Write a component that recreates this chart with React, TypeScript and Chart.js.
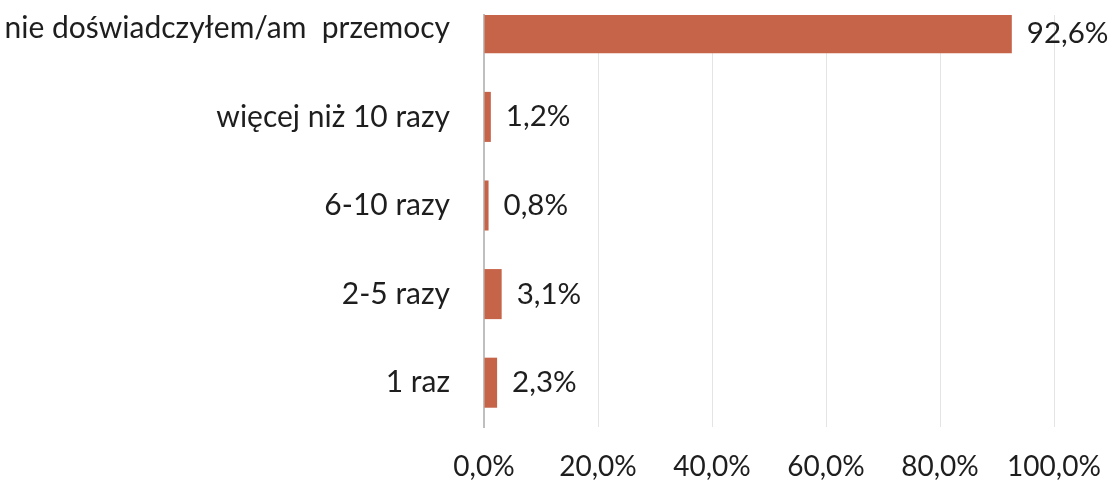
import React, { useEffect, useRef } from "react";
import { Chart, registerables } from "chart.js";

Chart.register(...registerables);

const categories = [
  "nie doświadczyłem/am  przemocy",
  "więcej niż 10 razy",
  "6-10 razy",
  "2-5 razy",
  "1 raz",
];
const values = [92.6, 1.2, 0.8, 3.1, 2.3];
const xTicks = [0, 20, 40, 60, 80, 100];

const FONT = "Lato";
const TEXT_COLOR = "#1E1E1E";
const BAR_COLOR = "rgb(198,100,74)";

const fmt = (v: number) => v.toFixed(1).replace(".", ",") + "%";

const valueLabels = {
  id: "valueLabels",
  afterDatasetsDraw(chart: any) {
    const ctx = chart.ctx;
    const meta = chart.getDatasetMeta(0);
    ctx.save();
    ctx.font = `29.5px ${FONT}`;
    ctx.fillStyle = TEXT_COLOR;
    ctx.textAlign = "left";
    ctx.textBaseline = "middle";
    meta.data.forEach((bar: any, i: number) => {
      const y = Math.max(bar.y, chart.chartArea.top + 18);
      ctx.fillText(fmt(values[i]), bar.x + 15, y);
    });
    ctx.restore();
  },
};

export default function App() {
  const ref = useRef<HTMLCanvasElement | null>(null);

  useEffect(() => {
    if (!ref.current) return;
    const chart = new Chart(ref.current, {
      type: "bar",
      data: {
        datasets: [
          {
            data: values.map((v, i) => ({ x: v, y: i })),
            backgroundColor: BAR_COLOR,
            borderWidth: 0,
            categoryPercentage: 1,
            barPercentage: 0.565,
          },
        ],
      },
      plugins: [valueLabels],
      options: {
        indexAxis: "y",
        animation: false,
        responsive: false,
        maintainAspectRatio: false,
        layout: { padding: { top: 15, right: 62, left: 0, bottom: 0 } },
        plugins: {
          legend: { display: false },
          tooltip: { enabled: false },
          title: { display: false },
        },
        scales: {
          x: {
            type: "linear",
            min: 0,
            max: 100,
            afterBuildTicks: (scale: any) => {
              scale.ticks = xTicks.map((v) => ({ value: v }));
            },
            afterFit: (scale: any) => {
              scale.height = 55;
              scale.paddingLeft = 0;
              scale.paddingRight = 0;
            },
            ticks: {
              callback: (v: any) => fmt(Number(v)),
              font: { family: FONT, size: 28 },
              color: TEXT_COLOR,
              padding: 23,
              maxRotation: 0,
            },
            grid: { color: "#E4E4E4", lineWidth: 1, drawTicks: false },
            border: { display: false },
          },
          y: {
            type: "linear",
            reverse: true,
            offset: false,
            min: -0.15,
            max: 4.5,
            afterBuildTicks: (scale: any) => {
              scale.ticks = categories.map((_, i) => ({ value: i }));
            },
            afterFit: (scale: any) => {
              scale.width = 484;
              scale.paddingTop = 0;
              scale.paddingBottom = 0;
            },
            ticks: {
              callback: (v: any) => categories[Number(v)] ?? "",
              font: { family: FONT, size: 30 },
              color: TEXT_COLOR,
              padding: 34,
            },
            grid: { display: false, drawTicks: false },
            border: { display: true, color: "#BFBFBF", width: 2 },
          },
        },
      },
    } as any);
    return () => chart.destroy();
  }, []);

  return (
    <div style={{ position: "absolute", left: 0, top: 0, width: 1116, height: 482, background: "#fff" }}>
      <canvas ref={ref} width={1116} height={482} style={{ display: "block" }} />
    </div>
  );
}
